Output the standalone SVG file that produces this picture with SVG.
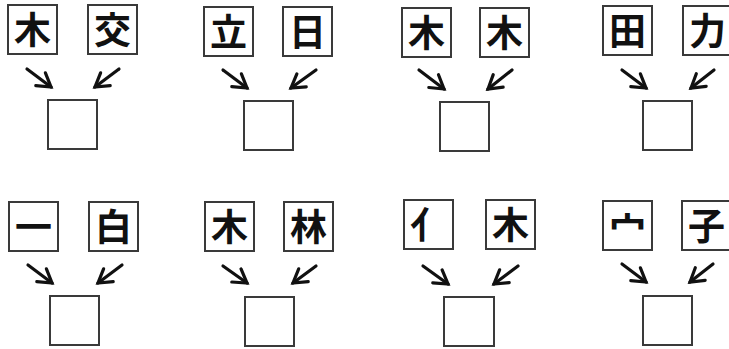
<svg xmlns="http://www.w3.org/2000/svg" width="729" height="349" viewBox="0 0 729 349">
<defs>
<style>
.box{fill:#fff;stroke:#3a3a3a;stroke-width:2}
.ch{font-family:"Noto Sans CJK JP","Noto Sans CJK SC",sans-serif;font-weight:bold;font-size:37px;fill:#111;text-anchor:middle}
.arr{stroke:#111;stroke-width:3.2;fill:none;stroke-linecap:round;marker-end:url(#head)}
</style>
<marker id="head" markerUnits="userSpaceOnUse" viewBox="-16 -10 20 20" refX="0" refY="0" markerWidth="20" markerHeight="20" orient="auto">
<path d="M-13,-8 L0,0 L-13,8" fill="none" stroke="#111" stroke-width="3.2" stroke-linecap="round" stroke-linejoin="miter"/>
</marker>
</defs>
<rect width="729" height="349" fill="#fff"/>

<g id="g1-left"><rect class="box" x="8" y="5" width="49" height="49"/><text class="ch" x="32.5" y="43.5">木</text></g>
<g id="g1-right"><rect class="box" x="88" y="5" width="49" height="49"/><text class="ch" x="112.5" y="43.5">交</text></g>
<g id="g1-answer"><rect class="box" x="48" y="100" width="49" height="49"/></g>

<g id="g2-left"><rect class="box" x="204" y="7" width="49" height="49"/><text class="ch" x="228.5" y="45.5">立</text></g>
<g id="g2-right"><rect class="box" x="283" y="7" width="49" height="49"/><text class="ch" x="307.5" y="45.5">日</text></g>
<g id="g2-answer"><rect class="box" x="244" y="101" width="49" height="49"/></g>

<g id="g3-left"><rect class="box" x="402" y="8" width="49" height="49"/><text class="ch" x="426.5" y="46.5">木</text></g>
<g id="g3-right"><rect class="box" x="480" y="8" width="49" height="49"/><text class="ch" x="504.5" y="46.5">木</text></g>
<g id="g3-answer"><rect class="box" x="440" y="102" width="49" height="49"/></g>

<g id="g4-left"><rect class="box" x="603" y="6" width="49" height="49"/><text class="ch" x="627.5" y="44.5">田</text></g>
<g id="g4-right"><rect class="box" x="683" y="6" width="49" height="49"/><text class="ch" x="707.5" y="44.5">力</text></g>
<g id="g4-answer"><rect class="box" x="643" y="101" width="49" height="49"/></g>

<g id="g5-left"><rect class="box" x="9" y="202" width="49" height="49"/><text class="ch" x="33.5" y="240.5">一</text></g>
<g id="g5-right"><rect class="box" x="89" y="202" width="49" height="49"/><text class="ch" x="113.5" y="240.5">白</text></g>
<g id="g5-answer"><rect class="box" x="50" y="296" width="49" height="49"/></g>

<g id="g6-left"><rect class="box" x="205" y="202" width="49" height="49"/><text class="ch" x="229.5" y="240.5">木</text></g>
<g id="g6-right"><rect class="box" x="284" y="202" width="49" height="49"/><text class="ch" x="308.5" y="240.5">林</text></g>
<g id="g6-answer"><rect class="box" x="245" y="297" width="49" height="49"/></g>

<g id="g7-left"><rect class="box" x="404" y="200" width="49" height="49"/><text class="ch" x="428.5" y="238.5">亻</text></g>
<g id="g7-right"><rect class="box" x="486" y="200" width="49" height="49"/><text class="ch" x="510.5" y="238.5">木</text></g>
<g id="g7-answer"><rect class="box" x="444" y="297" width="50" height="49"/></g>

<g id="g8-left"><rect class="box" x="603" y="201" width="49" height="49"/><text class="ch" x="627.5" y="239.5">宀</text></g>
<g id="g8-right"><rect class="box" x="682" y="201" width="49" height="49"/><text class="ch" x="706.5" y="239.5">子</text></g>
<g id="g8-answer"><rect class="box" x="643" y="296" width="49" height="49"/></g>

<g id="connectors">
<line class="arr" x1="27" y1="69" x2="51" y2="87"/>
<line class="arr" x1="119" y1="69" x2="95" y2="87"/>
<line class="arr" x1="223" y1="70" x2="247" y2="88"/>
<line class="arr" x1="316" y1="70" x2="291" y2="88"/>
<line class="arr" x1="419" y1="70" x2="444" y2="89"/>
<line class="arr" x1="512" y1="70" x2="488" y2="89"/>
<line class="arr" x1="622" y1="70" x2="646" y2="88"/>
<line class="arr" x1="714" y1="70" x2="691" y2="88"/>
<line class="arr" x1="28" y1="265" x2="52" y2="283"/>
<line class="arr" x1="122" y1="265" x2="98" y2="283"/>
<line class="arr" x1="223" y1="266" x2="247" y2="283"/>
<line class="arr" x1="316" y1="266" x2="293" y2="283"/>
<line class="arr" x1="423" y1="266" x2="448" y2="284"/>
<line class="arr" x1="518" y1="266" x2="494" y2="284"/>
<line class="arr" x1="622" y1="264" x2="646" y2="282"/>
<line class="arr" x1="713" y1="264" x2="690" y2="282"/>
</g>
</svg>
